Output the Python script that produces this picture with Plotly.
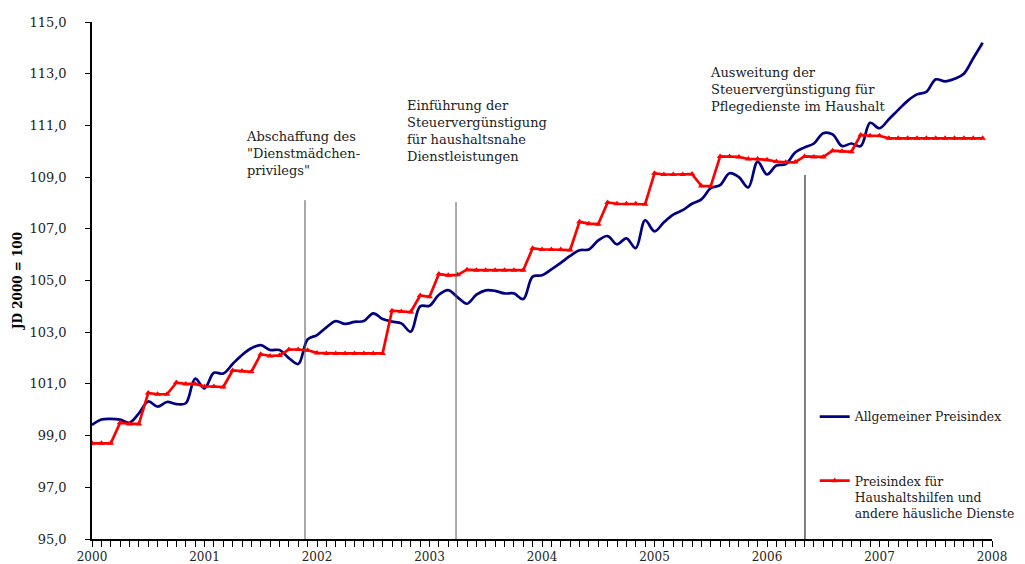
import plotly.graph_objects as go

years = ["2000", "2001", "2002", "2003", "2004", "2005", "2006", "2007", "2008"]
year_ticks = [0, 12, 24, 36, 48, 60, 72, 84, 96]
months = list(range(96))  # Jan 2000 ... Dec 2007

allgemein = [
    99.41, 99.62, 99.65, 99.62, 99.50, 99.86, 100.32, 100.12, 100.30, 100.22, 100.25, 101.20,
    100.83, 101.43, 101.40, 101.77, 102.12, 102.38, 102.50, 102.31, 102.31, 102.00, 101.77, 102.72,
    102.89, 103.19, 103.43, 103.32, 103.40, 103.43, 103.73, 103.51, 103.41, 103.34, 103.02, 104.00,
    104.02, 104.45, 104.63, 104.35, 104.10, 104.45, 104.62, 104.60, 104.50, 104.50, 104.28, 105.15,
    105.20, 105.43, 105.68, 105.95, 106.17, 106.20, 106.55, 106.72, 106.40, 106.63, 106.25, 107.33,
    106.90, 107.25, 107.55, 107.72, 107.97, 108.14, 108.57, 108.69, 109.15, 109.00, 108.60, 109.60,
    109.10, 109.45, 109.50, 109.95, 110.15, 110.30, 110.70, 110.65, 110.20, 110.30, 110.20, 111.10,
    110.89, 111.24, 111.60, 111.95, 112.20, 112.30, 112.78, 112.70, 112.80, 113.00, 113.60, 114.20,
]

haushalt = [
    98.70, 98.70, 98.70, 99.50, 99.45, 99.45, 100.65, 100.60, 100.60, 101.05, 101.00, 101.00,
    100.90, 100.90, 100.88, 101.52, 101.50, 101.47, 102.15, 102.08, 102.10, 102.33, 102.33, 102.30,
    102.20, 102.18, 102.18, 102.18, 102.18, 102.18, 102.18, 102.18, 103.83, 103.80, 103.78, 104.42,
    104.37, 105.25, 105.20, 105.22, 105.42, 105.40, 105.40, 105.40, 105.40, 105.40, 105.40, 106.25,
    106.20, 106.20, 106.20, 106.18, 107.27, 107.20, 107.18, 108.02, 107.97, 107.97, 107.97, 107.95,
    109.15, 109.10, 109.10, 109.10, 109.12, 108.66, 108.65, 109.80, 109.80, 109.78, 109.70, 109.70,
    109.67, 109.60, 109.57, 109.58, 109.80, 109.78, 109.78, 110.02, 110.00, 109.98, 110.63, 110.60,
    110.60, 110.50, 110.50, 110.50, 110.50, 110.50, 110.50, 110.50, 110.50, 110.50, 110.50, 110.50,
]

event_month = [22.72, 38.83, 76.05]
event_top = [108.11, 108.03, 109.08]
event_color = ["#555555", "#555555", "#000000"]
event_text = [
    'Abschaffung des<br>"Dienstmädchen-<br>privilegs"',
    'Einführung der<br>Steuervergünstigung<br>für haushaltsnahe<br>Dienstleistungen',
    'Ausweitung der<br>Steuervergünstigung für<br>Pflegedienste im Haushalt',
]
text_x = [16.25, 33.4, 65.7]
text_y = [110.95, 112.15, 113.43]

FONT = "DejaVu Serif"
TXT = "#222222"

fig = go.Figure()
fig.add_trace(go.Scatter(
    x=months, y=allgemein, mode="lines", name="Allgemeiner Preisindex",
    line=dict(color="#000080", width=2.7, shape="spline", smoothing=1.0),
    legendgroup="a",
))
fig.add_trace(go.Scatter(
    x=months, y=haushalt, mode="lines+markers",
    name="Preisindex für<br>Haushaltshilfen und<br>andere häusliche Dienste",
    line=dict(color="#FF0000", width=2.7),
    marker=dict(symbol="triangle-up", size=6, color="#FF0000"),
    legendgroup="b",
))

for xm, yt, c in zip(event_month, event_top, event_color):
    fig.add_shape(type="line", x0=xm, x1=xm, y0=95, y1=yt, xref="x", yref="y",
                  line=dict(color=c, width=1))

for t, xt, yt in zip(event_text, text_x, text_y):
    fig.add_annotation(x=xt, y=yt, xref="x", yref="y", text=t, showarrow=False,
                       xanchor="left", yanchor="top", align="left",
                       font=dict(family=FONT, size=13, color=TXT))

# the page body adds an 8 px offset; the figure is sized to fit the window
fig.update_layout(
    width=1017, height=556,
    margin=dict(l=84, r=33, t=14, b=25, autoexpand=False),
    paper_bgcolor="white", plot_bgcolor="white",
    separators=", ",
    font=dict(family=FONT, size=13, color=TXT),
    showlegend=True,
    legend=dict(x=0.803, y=0.265, xanchor="left", yanchor="top",
                itemwidth=30, valign="top", tracegroupgap=45,
                bgcolor="rgba(0,0,0,0)", font=dict(family=FONT, size=12.4, color=TXT)),
    xaxis=dict(
        range=[0, 96], tickvals=year_ticks, ticktext=years, automargin=False,
        showgrid=False, zeroline=False, showline=True, linecolor="black", linewidth=1.5,
        ticks="outside", ticklen=6, tickcolor="black",
        minor=dict(dtick=1, tick0=0, ticks="outside", ticklen=6, tickcolor="black", showgrid=False),
        tickfont=dict(family=FONT, size=12, color=TXT),
    ),
    yaxis=dict(
        range=[95, 115], dtick=2, tick0=95, tickformat=".1f", automargin=False,
        showgrid=False, zeroline=False, showline=True, linecolor="black", linewidth=1.5,
        ticks="outside", ticklen=5, tickcolor="black", ticklabelstandoff=16,
        tickfont=dict(family=FONT, size=13, color=TXT),
        title=dict(text="<b>JD 2000 = 100</b>", standoff=4,
                   font=dict(family=FONT, size=12, color="#000000")),
    ),
)

fig.write_html("out.html")
